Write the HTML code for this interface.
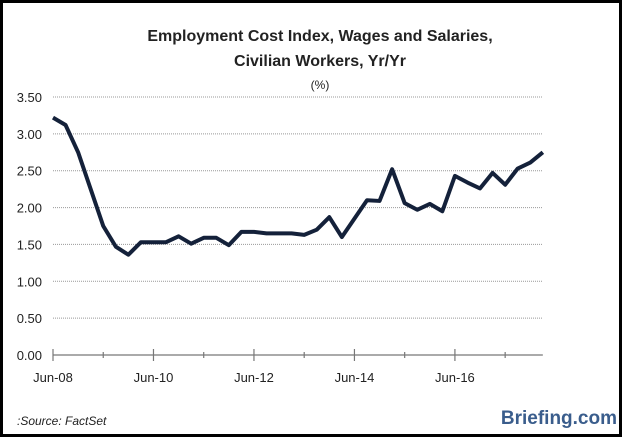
<!DOCTYPE html>
<html><head><meta charset="utf-8"><style>
html,body{margin:0;padding:0;background:#fff}
#wrap{position:relative;width:622px;height:437px;box-sizing:border-box;border:3px solid #000;background:#fff;font-family:"Liberation Sans",sans-serif}
svg{position:absolute;left:0;top:0}
</style></head><body>
<div id="wrap">
<svg id="c" width="622" height="437"></svg>
</div>
<script>
const yTicks=[0,0.5,1,1.5,2,2.5,3,3.5];
const xLabels=["Jun-08","Jun-10","Jun-12","Jun-14","Jun-16"];
const values=[3.22,3.12,2.75,2.25,1.75,1.47,1.36,1.53,1.53,1.53,1.61,1.51,1.59,1.59,1.49,1.67,1.67,1.65,1.65,1.65,1.63,1.70,1.87,1.60,1.85,2.10,2.09,2.52,2.06,1.97,2.05,1.95,2.43,2.34,2.26,2.47,2.31,2.53,2.61,2.75];
const NS="http://www.w3.org/2000/svg";
const svg=document.getElementById('c');
const x0=50,qw=12.56,yb=352,yt=94,ymax=3.5;
function X(i){return x0+i*qw}
function Y(v){return yb-(v/ymax)*(yb-yt)}
function el(t,a,txt){const e=document.createElementNS(NS,t);for(const k in a)e.setAttribute(k,a[k]);if(txt!=null)e.textContent=txt;svg.appendChild(e);return e}
const plotRight=X(values.length-1);
yTicks.forEach(v=>{
 if(v>0){const g=el('line',{x1:x0,x2:plotRight,y1:Y(v),y2:Y(v),stroke:'#999','stroke-width':1,'stroke-dasharray':'1,1'});
 
 }
 const t=el('text',{x:39,y:Y(v)+5,'text-anchor':'end','font-size':13,fill:'#222'},v.toFixed(2));
 
 
});
const ax=el('line',{x1:x0,x2:plotRight,y1:yb,y2:yb,stroke:'#777','stroke-width':1.2});


for(let i=0;i<values.length;i+=4){
 const major=(i%8===0);
 const tk=el('line',{x1:X(i),x2:X(i),y1:yb-(major?6:3),y2:yb+(major?6:3),stroke:'#777','stroke-width':1.2});
 
 
}
xLabels.forEach((l,j)=>{
 const t=el('text',{x:X(j*8),y:yb+27,'text-anchor':'middle','font-size':13,fill:'#222'},l);
 
 
});
const p=el('polyline',{points:values.map((v,i)=>X(i)+','+Y(v)).join(' '),fill:'none',stroke:'#14213a','stroke-width':4,'stroke-linejoin':'round'});


const t1=el('text',{x:317,y:38,'text-anchor':'middle','font-size':16,'font-weight':'bold',fill:'#222'},'Employment Cost Index, Wages and Salaries,');


const t2=el('text',{x:317,y:63,'text-anchor':'middle','font-size':16,'font-weight':'bold',fill:'#222'},'Civilian  Workers, Yr/Yr');


const t3=el('text',{x:317,y:86,'text-anchor':'middle','font-size':12,fill:'#222'},'(%)');


const s=el('text',{x:14,y:422,'font-size':12,'font-style':'italic',fill:'#222'},':Source: FactSet');


const b=el('text',{x:614,y:421,'text-anchor':'end','font-size':19,'font-weight':'bold',fill:'#3a5d8c'},'Briefing.com');


</script>
</body></html>
